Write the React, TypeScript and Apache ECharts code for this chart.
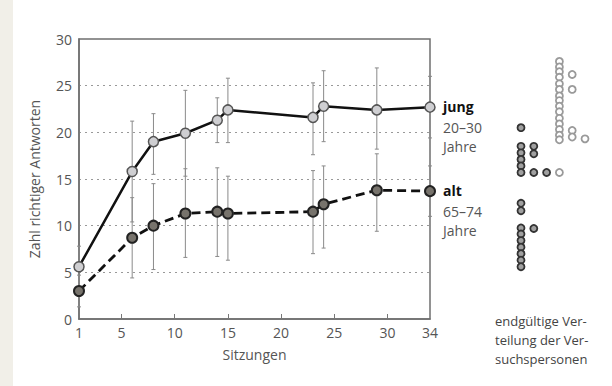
import React, { useEffect, useRef } from "react";
import * as echarts from "echarts";

// Sessions (x) and mean number of correct answers
const sessions = [1, 6, 8, 11, 14, 15, 23, 24, 29, 34];
const jung = [5.6, 15.8, 19.0, 19.9, 21.3, 22.4, 21.6, 22.8, 22.4, 22.7];
const alt = [3.0, 8.7, 10.0, 11.3, 11.5, 11.3, 11.5, 12.3, 13.8, 13.7];
const jungLow = [3.4, 10.4, 15.5, 15.3, 18.9, 18.9, 17.6, 19.0, 18.2, 19.4];
const jungHigh = [7.8, 21.2, 22.0, 24.5, 23.7, 25.8, 25.3, 26.6, 26.9, 26.0];
const altLow = [1.3, 4.4, 5.3, 6.6, 6.7, 6.3, 7.0, 7.6, 9.4, 11.0];
const altHigh = [4.7, 13.0, 14.5, 16.1, 16.2, 15.3, 15.9, 16.4, 17.7, 16.4];

const xTickLabels = [1, 5, 10, 15, 20, 25, 30, 34];
const xTickMarks = [5, 10, 15, 20, 25, 30];

// Final distribution of participants (column index, score)
const darkCol = [0, 0, 0, 0, 0, 0, 1, 1, 1, 2, 0, 0, 0, 0, 0, 0, 0, 0, 0, 1];
const darkVal = [20.5, 18.5, 17.8, 17.1, 16.4, 15.7, 18.5, 17.7, 15.7, 15.7, 12.4, 11.6, 9.75, 9.1, 8.4, 7.7, 7.0, 6.3, 5.6, 9.7];
const lightCol = [3, 3, 3, 3, 3, 3, 3, 3, 3, 3, 3, 3, 3, 3, 3, 3, 4, 4, 4, 4, 5];
const lightVal = [27.6, 27.0, 26.5, 25.9, 25.2, 24.6, 23.9, 23.4, 22.8, 22.2, 21.5, 20.9, 20.3, 19.7, 19.2, 15.7, 26.2, 24.6, 20.2, 19.5, 19.3];

const FONT = "Open Sans";

export default function App() {
  const ref = useRef<HTMLDivElement>(null);
  useEffect(() => {
    document.body.style.margin = "0";
    const chart = echarts.init(ref.current!, null, { renderer: "svg" });

    const errRender = (color: string) => (params: any, api: any) => {
      const x = api.value(0);
      const lo = api.value(1);
      const hi = api.value(2);
      const p1 = api.coord([x, hi]);
      const p2 = api.coord([x, lo]);
      const w = 2;
      const st = { stroke: color, lineWidth: 1 };
      return {
        type: "group",
        children: [
          { type: "line", shape: { x1: p1[0], y1: p1[1], x2: p2[0], y2: p2[1] }, style: st },
          { type: "line", shape: { x1: p1[0] - w, y1: p1[1], x2: p1[0] + w, y2: p1[1] }, style: st },
          { type: "line", shape: { x1: p2[0] - w, y1: p2[1], x2: p2[0] + w, y2: p2[1] }, style: st },
        ],
      };
    };

    const textStyleGrey = { fill: "#555", fontSize: 14, fontFamily: FONT };
    const textStyleBold = { fill: "#111", fontSize: 14, fontFamily: FONT, fontWeight: "bold" };

    chart.setOption({
      animation: false,
      backgroundColor: "#fff",
      grid: [
        { left: 79, right: 182, top: 39, bottom: 67, show: true, borderColor: "#6f6f6f", borderWidth: 1.5, backgroundColor: "transparent" },
        { left: 521, width: 64, top: 39, bottom: 67, show: false },
      ],
      xAxis: [
        {
          gridIndex: 0,
          type: "value",
          min: 1,
          max: 34,
          name: "Sitzungen",
          nameLocation: "middle",
          nameGap: 28,
          nameTextStyle: { color: "#555", fontSize: 14, fontFamily: FONT },
          axisLine: { show: true, lineStyle: { color: "#6f6f6f", width: 1.5 } },
          axisTick: { show: true, inside: true, length: 5, customValues: xTickMarks, lineStyle: { color: "#777" } },
          axisLabel: { customValues: xTickLabels, color: "#555", fontSize: 14, fontFamily: FONT, margin: 6 },
          splitLine: { show: false },
        },
        { gridIndex: 1, type: "value", min: 0, max: 5, show: false },
      ],
      yAxis: [
        {
          gridIndex: 0,
          type: "value",
          min: 0,
          max: 30,
          interval: 5,
          name: "Zahl richtiger Antworten",
          nameLocation: "middle",
          nameGap: 38,
          nameTextStyle: { color: "#555", fontSize: 14, fontFamily: FONT },
          axisLine: { show: true, lineStyle: { color: "#6f6f6f", width: 1.5 } },
          axisTick: { show: false },
          axisLabel: { color: "#555", fontSize: 14, fontFamily: FONT, margin: 7 },
          splitLine: { show: true, showMinLine: false, showMaxLine: false, lineStyle: { color: "#999", type: [2, 4], width: 1 } },
        },
        { gridIndex: 1, type: "value", min: 0, max: 30, show: false },
      ],
      graphic: [
        { type: "rect", shape: { x: 0, y: 0, width: 13, height: 386 }, style: { fill: "#f1efe8" }, z: -10 },
        { type: "text", x: 443, y: 99, style: { text: "jung", ...textStyleBold } },
        { type: "text", x: 443, y: 120, style: { text: "20–30", ...textStyleGrey } },
        { type: "text", x: 443, y: 139, style: { text: "Jahre", ...textStyleGrey } },
        { type: "text", x: 443, y: 183, style: { text: "alt", ...textStyleBold } },
        { type: "text", x: 443, y: 204, style: { text: "65–74", ...textStyleGrey } },
        { type: "text", x: 443, y: 223, style: { text: "Jahre", ...textStyleGrey } },
        { type: "text", x: 495, y: 311, style: { text: "endgültige Ver-\nteilung der Ver-\nsuchspersonen", fill: "#444", fontSize: 13, fontFamily: FONT, lineHeight: 19 } },
      ],
      series: [
        {
          type: "custom",
          xAxisIndex: 0,
          yAxisIndex: 0,
          renderItem: errRender("#8a8a8a"),
          data: sessions.map((s, i) => [s, jungLow[i], jungHigh[i]]),
          encode: { x: 0, y: [1, 2] },
          z: 1,
        },
        {
          type: "custom",
          xAxisIndex: 0,
          yAxisIndex: 0,
          renderItem: errRender("#8a8a8a"),
          data: sessions.map((s, i) => [s, altLow[i], altHigh[i]]),
          encode: { x: 0, y: [1, 2] },
          z: 1,
        },
        {
          name: "jung",
          type: "line",
          xAxisIndex: 0,
          yAxisIndex: 0,
          data: sessions.map((s, i) => [s, jung[i]]),
          lineStyle: { color: "#111", width: 2.5 },
          symbol: "circle",
          symbolSize: 10,
          itemStyle: { color: "#cfcfd2", borderColor: "#555", borderWidth: 1.5 },
          z: 3,
        },
        {
          name: "alt",
          type: "line",
          xAxisIndex: 0,
          yAxisIndex: 0,
          data: sessions.map((s, i) => [s, alt[i]]),
          lineStyle: { color: "#111", width: 2.8, type: [9, 5] },
          symbol: "circle",
          symbolSize: 10,
          itemStyle: { color: "#77736c", borderColor: "#222", borderWidth: 2 },
          z: 3,
        },
        {
          type: "scatter",
          xAxisIndex: 1,
          yAxisIndex: 1,
          data: darkCol.map((c, i) => [c, darkVal[i]]),
          symbolSize: 7,
          itemStyle: { color: "#a0a0a0", borderColor: "#333", borderWidth: 1.8, opacity: 1 },
        },
        {
          type: "scatter",
          xAxisIndex: 1,
          yAxisIndex: 1,
          data: lightCol.map((c, i) => [c, lightVal[i]]),
          symbolSize: 7,
          itemStyle: { color: "#ffffff", borderColor: "#9a9a9a", borderWidth: 1.8, opacity: 1 },
        },
      ],
    });
    return () => chart.dispose();
  }, []);
  return <div ref={ref} style={{ width: 612, height: 386 }} />;
}
